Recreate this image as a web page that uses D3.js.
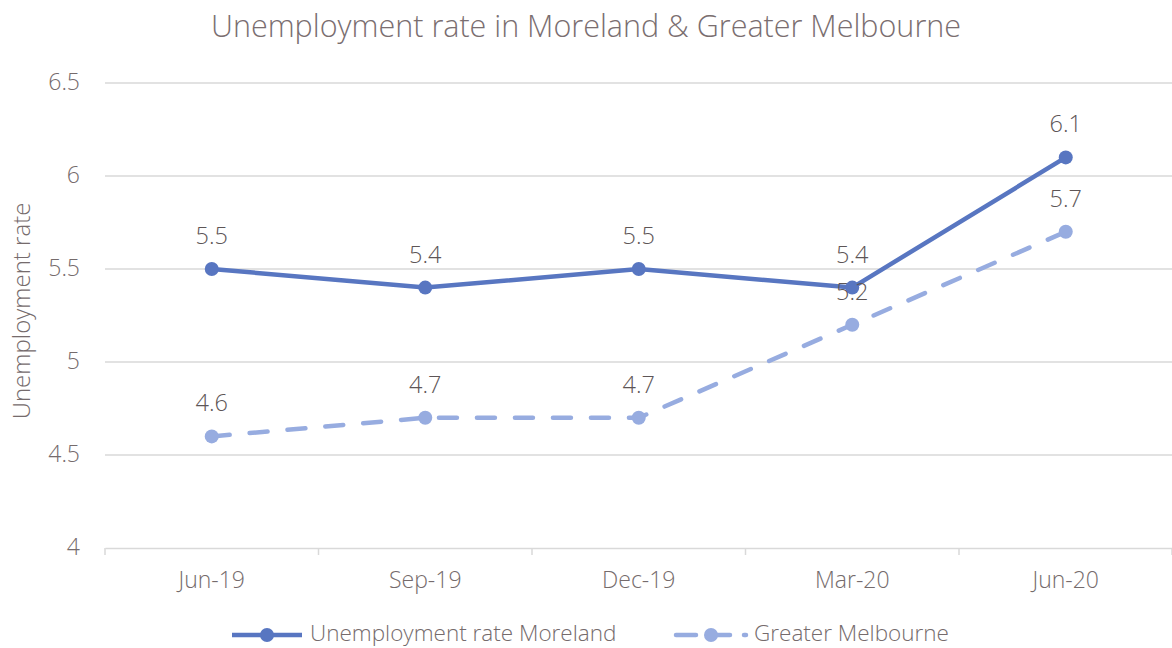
<!DOCTYPE html>
<html><head><meta charset="utf-8">
<script src="https://cdn.jsdelivr.net/npm/d3@7"></script>
<style>
body{margin:0;background:#fff;}
svg text{font-family:"Open Sans",Lato,sans-serif;font-weight:300;}
</style></head>
<body>
<svg id="chart" width="1172" height="648"></svg>
<script>
const categories = ["Jun-19","Sep-19","Dec-19","Mar-20","Jun-20"];
const moreland = [5.5,5.4,5.5,5.4,6.1];
const melbourne = [4.6,4.7,4.7,5.2,5.7];
const yTicks = [4,4.5,5,5.5,6,6.5];
const seriesNames = ["Unemployment rate Moreland","Greater Melbourne"];
const title = "Unemployment rate in Moreland & Greater Melbourne";
const yTitle = "Unemployment rate";

const svg = d3.select("#chart");
const x = d3.scaleBand().domain(categories).range([105,1172.5]);
const y = d3.scaleLinear().domain([4,6.5]).range([548,83]);
const textCol = "#756b6c";
const c1 = "#5876c1", c2 = "#97ace0";

svg.append("text").attr("x",586).attr("y",37).attr("text-anchor","middle")
  .attr("font-size",30.5).attr("fill","#7a6e70").text(title);

// gridlines
svg.append("g").selectAll("line").data(yTicks.slice(1)).join("line")
  .attr("x1",105).attr("x2",1172).attr("y1",d=>y(d)).attr("y2",d=>y(d))
  .attr("stroke","#d9d9d9").attr("stroke-width",1.5);

// y tick labels
svg.append("g").selectAll("text").data(yTicks).join("text")
  .attr("x",80).attr("y",d=>y(d)+7).attr("text-anchor","end")
  .attr("font-size",23).attr("fill",textCol).text(d=>d3.format("")(d));

// x axis
const xAxis = svg.append("g").attr("transform","translate(0,548)")
  .call(d3.axisBottom(x).tickSize(0).tickPadding(0));
xAxis.select(".domain").attr("stroke","#d9d9d9").attr("stroke-width",1.5);
xAxis.selectAll("text").attr("font-size",23).attr("fill",textCol).attr("dy",0).attr("y",40)
  .attr("font-family","'Open Sans',sans-serif").attr("font-weight",300);
const bounds = categories.map(c=>x(c)).concat([x.range()[1]-0.5]);
svg.append("g").selectAll("line").data(bounds).join("line")
  .attr("x1",d=>d).attr("x2",d=>d).attr("y1",548).attr("y2",555)
  .attr("stroke","#d9d9d9").attr("stroke-width",1.5);

// y title
svg.append("text").attr("transform","translate(30,311) rotate(-90)")
  .attr("text-anchor","middle").attr("font-size",24).attr("fill",textCol).text(yTitle);

const cx = c => x(c) + x.bandwidth()/2;
const line = d3.line().x((d,i)=>cx(categories[i])).y(d=>y(d));

svg.append("path").datum(melbourne).attr("d",line).attr("fill","none")
  .attr("stroke",c2).attr("stroke-width",4.5).attr("stroke-dasharray","18,20")
  .attr("stroke-linecap","round");
svg.append("g").selectAll("circle").data(melbourne).join("circle")
  .attr("cx",(d,i)=>cx(categories[i])).attr("cy",d=>y(d)).attr("r",7).attr("fill",c2);

svg.append("path").datum(moreland).attr("d",line).attr("fill","none")
  .attr("stroke",c1).attr("stroke-width",4.5).attr("stroke-linejoin","round");
svg.append("g").selectAll("circle").data(moreland).join("circle")
  .attr("cx",(d,i)=>cx(categories[i])).attr("cy",d=>y(d)).attr("r",7).attr("fill",c1);

const labCol = "#5d5556";
svg.append("g").selectAll("text").data(moreland).join("text")
  .attr("x",(d,i)=>cx(categories[i])).attr("y",d=>y(d)-25).attr("text-anchor","middle")
  .attr("font-size",23.5).attr("fill",labCol).text(d=>d3.format(".1f")(d));
svg.append("g").selectAll("text").data(melbourne).join("text")
  .attr("x",(d,i)=>cx(categories[i])).attr("y",d=>y(d)-25).attr("text-anchor","middle")
  .attr("font-size",23.5).attr("fill",labCol).text(d=>d3.format(".1f")(d));

// legend
const leg = [{name:seriesNames[0],col:c1,x0:232,dash:null},{name:seriesNames[1],col:c2,x0:676,dash:"20,14"}];
const lg = svg.append("g").selectAll("g").data(leg).join("g");
lg.append("line").attr("x1",d=>d.x0).attr("x2",d=>d.x0+70).attr("y1",635).attr("y2",635)
  .attr("stroke",d=>d.col).attr("stroke-width",4.5).attr("stroke-dasharray",d=>d.dash)
  .attr("stroke-linecap",d=>d.dash?"round":"butt");
lg.append("circle").attr("cx",d=>d.x0+35).attr("cy",635).attr("r",7).attr("fill",d=>d.col);
lg.append("text").attr("x",d=>d.x0+78).attr("y",641).attr("font-size",22.5).attr("fill",textCol).text(d=>d.name);
</script>
</body></html>
